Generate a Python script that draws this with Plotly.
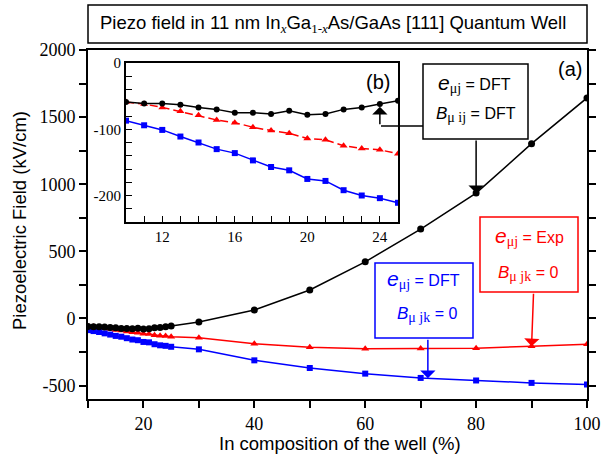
import plotly.graph_objects as go

# ---------------- data ----------------
x_in = [10, 11, 12, 13, 14, 15, 16, 17, 18, 19, 20, 21, 22, 23, 24, 25, 30, 40, 50, 60, 70, 80, 90, 100]
dft_full = [-59, -61, -61, -63, -67, -70, -75, -75, -77, -72, -78, -77, -70, -67, -62, -57,
            -26, 63, 212, 422, 666, 934, 1302, 1643]
exp_b0 = [-59, -62, -67, -73, -79, -86, -90, -97, -102, -106, -114, -116, -125, -129, -131, -137,
          -143, -188, -215, -225, -224, -222, -207, -192]
dft_b0 = [-87, -94, -101, -111, -120, -130, -136, -147, -157, -162, -175, -178, -192, -200, -204, -211,
          -230, -312, -369, -411, -443, -462, -480, -492]
n_inset = 16  # points from 10 % to 25 %

main_ytick_vals = [-500, 0, 500, 1000, 1500, 2000]
main_ytick_text = ["-500", "0", "500", "1000", "1500", "2000"]
main_xtick_vals = [20, 40, 60, 80, 100]
inset_xtick_vals = [12, 16, 20, 24]
inset_ytick_vals = [-200, -100, 0]
inset_ytick_text = ["-200", "-100", "0"]

# ---------------- geometry helpers ----------------
W, H = 602, 454
L, R, T, B = 88, 587, 50, 399
def px(x):
    return (x - L) / (R - L)
def py(y):
    return (B - y) / (B - T)

SANS = "Liberation Sans"
SERIF = "Liberation Serif"

BLACK, RED, BLUE = "#000000", "#ff0000", "#0000ff"

fig = go.Figure()

# main traces
fig.add_trace(go.Scatter(x=x_in, y=exp_b0, mode="lines+markers",
                         line=dict(color=RED, width=1.5),
                         marker=dict(symbol="triangle-up", size=7, color=RED),
                         xaxis="x", yaxis="y", showlegend=False))
fig.add_trace(go.Scatter(x=x_in, y=dft_b0, mode="lines+markers",
                         line=dict(color=BLUE, width=1.5),
                         marker=dict(symbol="square", size=6, color=BLUE),
                         xaxis="x", yaxis="y", showlegend=False))
fig.add_trace(go.Scatter(x=x_in, y=dft_full, mode="lines+markers",
                         line=dict(color=BLACK, width=1.5),
                         marker=dict(symbol="circle", size=7, color=BLACK),
                         xaxis="x", yaxis="y", showlegend=False))

# inset traces
fig.add_trace(go.Scatter(x=x_in[:n_inset], y=dft_b0[:n_inset], mode="lines+markers",
                         line=dict(color=BLUE, width=1.5),
                         marker=dict(symbol="square", size=6, color=BLUE),
                         xaxis="x2", yaxis="y2", showlegend=False))
fig.add_trace(go.Scatter(x=x_in[:n_inset], y=exp_b0[:n_inset], mode="lines+markers",
                         line=dict(color=RED, width=1.5, dash="8px,4px"),
                         marker=dict(symbol="triangle-up", size=7, color=RED),
                         xaxis="x2", yaxis="y2", showlegend=False))
fig.add_trace(go.Scatter(x=x_in[:n_inset], y=dft_full[:n_inset], mode="lines+markers",
                         line=dict(color=BLACK, width=1.5),
                         marker=dict(symbol="circle", size=6, color=BLACK),
                         xaxis="x2", yaxis="y2", showlegend=False))

axis_common = dict(showgrid=False, zeroline=False, showline=True, linecolor=BLACK,
                   linewidth=2, automargin=False)

fig.update_layout(
    width=W, height=H, autosize=False,
    margin=dict(l=L, r=W - R, t=T, b=H - B, pad=0, autoexpand=False),
    paper_bgcolor="white", plot_bgcolor="white",
    xaxis=dict(**axis_common, range=[10, 100], mirror=True,
               ticks="outside", ticklen=7, tickwidth=1.5, tickcolor=BLACK,
               tickvals=main_xtick_vals,
               tickfont=dict(family=SERIF, size=18, color=BLACK),
               minor=dict(tickmode="linear", tick0=10, dtick=10, ticks="outside",
                          ticklen=7, tickwidth=1.5, tickcolor=BLACK)),
    yaxis=dict(**axis_common, range=[-600, 2000], mirror="ticks",
               ticks="outside", ticklen=7, tickwidth=1.5, tickcolor=BLACK,
               tickvals=main_ytick_vals, ticktext=main_ytick_text,
               tickfont=dict(family=SERIF, size=18, color=BLACK),
               minor=dict(tickmode="linear", tick0=0, dtick=250, ticks="outside",
                          ticklen=7, tickwidth=1.5, tickcolor=BLACK)),
    xaxis2=dict(**axis_common, range=[10, 25], mirror=True, anchor="y2",
                domain=[px(126), px(398)],
                ticks="inside", ticklen=6, tickwidth=1.2, tickcolor=BLACK,
                tickvals=inset_xtick_vals,
                tickfont=dict(family=SERIF, size=15, color=BLACK),
                minor=dict(tickmode="linear", tick0=10, dtick=1, ticks="inside",
                           ticklen=6, tickwidth=1.2, tickcolor=BLACK)),
    yaxis2=dict(**axis_common, range=[-240, 0], mirror=True, anchor="x2",
                domain=[py(222), py(63)],
                ticks="inside", ticklen=6, tickwidth=1.2, tickcolor=BLACK,
                tickvals=inset_ytick_vals, ticktext=inset_ytick_text,
                tickfont=dict(family=SERIF, size=15, color=BLACK),
                minor=dict(tickmode="linear", tick0=0, dtick=20, ticks="inside",
                           ticklen=6, tickwidth=1.2, tickcolor=BLACK)),
)

# ---------------- boxes (shapes) ----------------
def rect(x0, y0, x1, y1, color):
    return dict(type="rect", xref="paper", yref="paper",
                x0=px(x0), x1=px(x1), y0=py(y1), y1=py(y0),
                line=dict(color=color, width=1.5), fillcolor="white", layer="above")

shapes = [
    rect(88, 5, 587, 43, BLACK),
    rect(423, 64, 528, 139, BLACK),
    rect(480, 217, 578, 292, RED),
    rect(375, 263, 473, 338, BLUE),
    dict(type="line", xref="paper", yref="paper",
         x0=px(381), x1=px(423), y0=py(126), y1=py(126),
         line=dict(color=BLACK, width=1.5), layer="above"),
]
fig.update_layout(shapes=shapes)

def sub(t, size=14):
    return ("<sub><span style=\"font-family:Liberation Serif;font-size:%dpx\">" % size) + t + "</span></sub>"

def big(t, size=21):
    return ("<span style=\"font-size:%dpx\"><i>" % size) + t + "</i></span>"

def label(text, x, y, color=BLACK, size=16, xanchor="center", family=SANS, angle=0):
    return dict(text=text, xref="paper", yref="paper", x=px(x), y=py(y),
                xanchor=xanchor, yanchor="middle", showarrow=False, textangle=angle,
                font=dict(family=family, size=size, color=color))

ann = [
    label("Piezo field in 11 nm In" + sub("<i>x</i>", 13) + "Ga" + sub("1-<i>x</i>", 13) +
          "As/GaAs [111] Quantum Well", 333, 24, size=18.5),
    label("(a)", 584, 69, size=20, xanchor="right"),
    label("(b)", 378, 82, size=20),
    label(big("e") + sub("μj") + " = DFT", 474, 83),
    label(big("B", 17) + sub("μ ij") + " = DFT", 476, 115),
    label(big("e") + sub("μj") + " = Exp", 529, 236, color=RED),
    label(big("B", 17) + sub("μ jk") + " = 0", 528, 273, color=RED),
    label(big("e") + sub("μj") + " = DFT", 423, 279, color=BLUE),
    label(big("B", 17) + sub("μ jk") + " = 0", 427, 314, color=BLUE),
    label("In composition of the well (%)", 340, 443, size=18.5),
    label("Piezoelectric Field (kV/cm)", 19, 221, size=18.5, angle=-90),
]

def arrow(x, y, ay, color, xref="x", yref="y", ax=0):
    return dict(text="", x=x, y=y, xref=xref, yref=yref, ax=ax, ay=ay,
                showarrow=True, arrowhead=1, arrowsize=1.7, arrowwidth=1.5,
                arrowcolor=color)

ann += [
    arrow(80, 934, -54, BLACK),
    arrow(90, -207, -54, RED, ax=2),
    arrow(71.3, -445, -40, BLUE),
    arrow(24, -66, 19, BLACK, xref="x2", yref="y2"),
]
fig.update_layout(annotations=ann)

fig.write_html("out.html", config={"displayModeBar": False},
               post_script="document.body.style.margin='0px';")
